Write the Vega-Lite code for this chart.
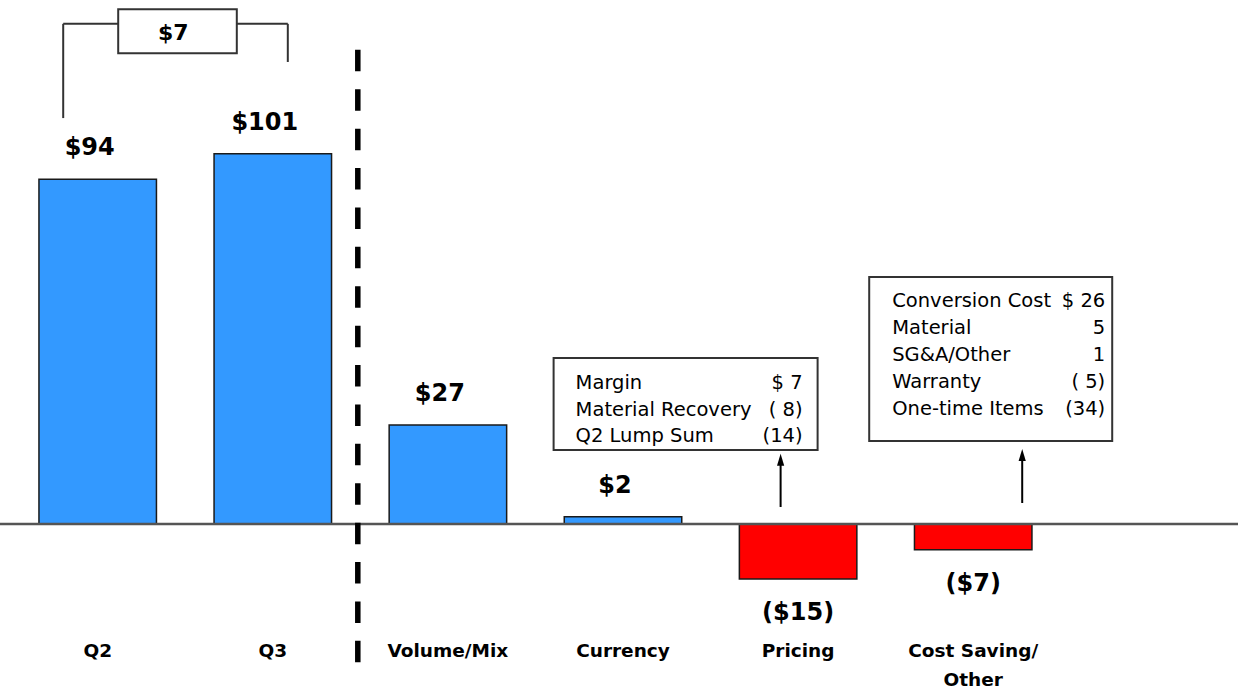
{
  "$schema": "https://vega.github.io/schema/vega-lite/v6.json",
  "width": 1238,
  "height": 600,
  "autosize": {"type": "none"},
  "padding": {"left": 0, "top": 0, "right": 0, "bottom": 93},
  "background": "white",
  "config": {
    "view": {"stroke": null},
    "axisY": {"disable": true},
    "text": {"font": "DejaVu Sans", "color": "#000000"}
  },
  "datasets": {
    "main": [
      {"cat": "Q2", "value": 94, "label": "$94"},
      {"cat": "Q3", "value": 101, "label": "$101"},
      {"cat": "Volume/Mix", "value": 27, "label": "$27"},
      {"cat": "Currency", "value": 2, "label": "$2"},
      {"cat": "Pricing", "value": -15, "label": "($15)"},
      {"cat": "Cost Saving/Other", "value": -7, "label": "($7)"}
    ],
    "notes": [
      {"box": "pricing", "items": "Margin\nMaterial Recovery\nQ2 Lump Sum", "amounts": "$ 7\n( 8)\n(14)"},
      {"box": "cost", "items": "Conversion Cost\nMaterial\nSG&A/Other\nWarranty\nOne-time Items", "amounts": "$ 26\n5\n1\n( 5)\n(34)"}
    ],
    "bracket": [{"label": "$7"}],
    "one": [{}]
  },
  "layer": [
    {
      "data": {"name": "main"},
      "mark": {"type": "bar", "stroke": "#1a1a1a", "strokeWidth": 1.5},
      "encoding": {
        "x": {
          "field": "cat", "type": "nominal", "sort": null,
          "scale": {"domain": ["Q2", "Q3", "Volume/Mix", "Currency", "Pricing", "Cost Saving/Other"], "paddingInner": 0.329, "paddingOuter": 0.6996, "align": 0.159},
          "axis": {
            "title": null, "orient": "bottom", "domain": false, "ticks": false, "tickSize": 0, "grid": false,
            "labelAngle": 0, "labelPadding": 41, "labelFont": "DejaVu Sans", "labelFontWeight": "bold",
            "labelFontSize": 18.5, "labelColor": "#000000", "labelLineHeight": 29, "labelLimit": 0,
            "labelExpr": "datum.label == 'Cost Saving/Other' ? ['Cost Saving/', 'Other'] : datum.label"
          }
        },
        "y": {"field": "value", "type": "quantitative", "scale": {"domain": [-20.73, 142.9], "nice": false, "zero": false}, "axis": null},
        "fill": {"condition": {"test": "datum.value < 0", "value": "#FF0000"}, "value": "#3399FF"}
      }
    },
    {
      "data": {"name": "one"},
      "mark": {"type": "rule", "color": "#555555", "strokeWidth": 2.5},
      "encoding": {"y": {"datum": 0}}
    },
    {
      "data": {"name": "main"},
      "transform": [{"filter": "datum.value > 0"}],
      "mark": {"type": "text", "fontWeight": "bold", "fontSize": 24, "baseline": "alphabetic", "align": "center", "dy": -24, "dx": -8},
      "encoding": {
        "x": {"field": "cat", "type": "nominal"},
        "y": {"field": "value", "type": "quantitative"},
        "text": {"field": "label"}
      }
    },
    {
      "data": {"name": "main"},
      "transform": [{"filter": "datum.value < 0"}],
      "mark": {"type": "text", "fontWeight": "bold", "fontSize": 24, "baseline": "alphabetic", "align": "center", "dy": 41},
      "encoding": {
        "x": {"field": "cat", "type": "nominal"},
        "y": {"field": "value", "type": "quantitative"},
        "text": {"field": "label"}
      }
    },
    {
      "data": {"name": "one"},
      "mark": {"type": "rule", "color": "#000000", "strokeWidth": 5.5, "strokeDash": [21.5, 17.9], "xOffset": 85},
      "encoding": {"x": {"datum": "Q3"}, "y": {"datum": 129.3}, "y2": {"datum": -38.45}}
    },
    {
      "data": {"name": "one"},
      "mark": {"type": "rule", "color": "#333333", "strokeWidth": 2, "xOffset": -34.5},
      "encoding": {"x": {"datum": "Q2"}, "y": {"datum": 110.7}, "y2": {"datum": 136.4}}
    },
    {
      "data": {"name": "one"},
      "mark": {"type": "rule", "color": "#333333", "strokeWidth": 2, "xOffset": 15},
      "encoding": {"x": {"datum": "Q3"}, "y": {"datum": 126.0}, "y2": {"datum": 136.4}}
    },
    {
      "data": {"name": "one"},
      "mark": {"type": "rule", "color": "#333333", "strokeWidth": 2, "xOffset": -34.5, "x2Offset": 15},
      "encoding": {"x": {"datum": "Q2"}, "x2": {"datum": "Q3"}, "y": {"datum": 136.4}}
    },
    {
      "data": {"name": "one"},
      "mark": {"type": "rect", "fill": "white", "stroke": "#333333", "strokeWidth": 2, "xOffset": 20.5, "x2Offset": -36},
      "encoding": {"x": {"datum": "Q2"}, "x2": {"datum": "Q3"}, "y": {"datum": 140.4}, "y2": {"datum": 128.4}}
    },
    {
      "data": {"name": "bracket"},
      "mark": {"type": "text", "fontWeight": "bold", "fontSize": 22, "baseline": "middle", "align": "center", "xOffset": 75.5},
      "encoding": {"x": {"datum": "Q2"}, "y": {"datum": 133.9}, "text": {"field": "label"}}
    },
    {
      "data": {"name": "one"},
      "mark": {"type": "rect", "fill": "white", "stroke": "#333333", "strokeWidth": 2, "xOffset": -244.5, "x2Offset": 19.5},
      "encoding": {"x": {"datum": "Pricing"}, "x2": {"datum": "Pricing"}, "y": {"datum": 45.27}, "y2": {"datum": 20.18}}
    },
    {
      "data": {"name": "notes"},
      "transform": [{"filter": "datum.box == 'pricing'"}],
      "mark": {"type": "text", "fontSize": 19.5, "baseline": "top", "align": "left", "lineBreak": "\n", "lineHeight": 26.5, "xOffset": -222.5},
      "encoding": {"x": {"datum": "Pricing"}, "y": {"datum": 40.77}, "text": {"field": "items"}}
    },
    {
      "data": {"name": "notes"},
      "transform": [{"filter": "datum.box == 'pricing'"}],
      "mark": {"type": "text", "fontSize": 19.5, "baseline": "top", "align": "right", "lineBreak": "\n", "lineHeight": 26.5, "xOffset": 4.5},
      "encoding": {"x": {"datum": "Pricing"}, "y": {"datum": 40.77}, "text": {"field": "amounts"}}
    },
    {
      "data": {"name": "one"},
      "mark": {"type": "rect", "fill": "white", "stroke": "#333333", "strokeWidth": 2, "xOffset": -104, "x2Offset": 139},
      "encoding": {"x": {"datum": "Cost Saving/Other"}, "x2": {"datum": "Cost Saving/Other"}, "y": {"datum": 67.36}, "y2": {"datum": 22.63}}
    },
    {
      "data": {"name": "notes"},
      "transform": [{"filter": "datum.box == 'cost'"}],
      "mark": {"type": "text", "fontSize": 19.5, "baseline": "top", "align": "left", "lineBreak": "\n", "lineHeight": 27, "xOffset": -81},
      "encoding": {"x": {"datum": "Cost Saving/Other"}, "y": {"datum": 63.4}, "text": {"field": "items"}}
    },
    {
      "data": {"name": "notes"},
      "transform": [{"filter": "datum.box == 'cost'"}],
      "mark": {"type": "text", "fontSize": 19.5, "baseline": "top", "align": "right", "lineBreak": "\n", "lineHeight": 27, "xOffset": 132},
      "encoding": {"x": {"datum": "Cost Saving/Other"}, "y": {"datum": 63.4}, "text": {"field": "amounts"}}
    },
    {
      "data": {"name": "one"},
      "mark": {"type": "rule", "color": "#000000", "strokeWidth": 2, "xOffset": -17.5},
      "encoding": {"x": {"datum": "Pricing"}, "y": {"datum": 4.64}, "y2": {"datum": 16.9}}
    },
    {
      "data": {"name": "one"},
      "mark": {"type": "point", "filled": true, "color": "#000000", "opacity": 1, "size": 144, "shape": "M0,-1L0.6,1L-0.6,1Z", "xOffset": -17.5},
      "encoding": {"x": {"datum": "Pricing"}, "y": {"datum": 17.55}}
    },
    {
      "data": {"name": "one"},
      "mark": {"type": "rule", "color": "#000000", "strokeWidth": 2, "xOffset": 49},
      "encoding": {"x": {"datum": "Cost Saving/Other"}, "y": {"datum": 5.73}, "y2": {"datum": 18.0}}
    },
    {
      "data": {"name": "one"},
      "mark": {"type": "point", "filled": true, "color": "#000000", "opacity": 1, "size": 144, "shape": "M0,-1L0.6,1L-0.6,1Z", "xOffset": 49},
      "encoding": {"x": {"datum": "Cost Saving/Other"}, "y": {"datum": 18.82}}
    }
  ]
}
